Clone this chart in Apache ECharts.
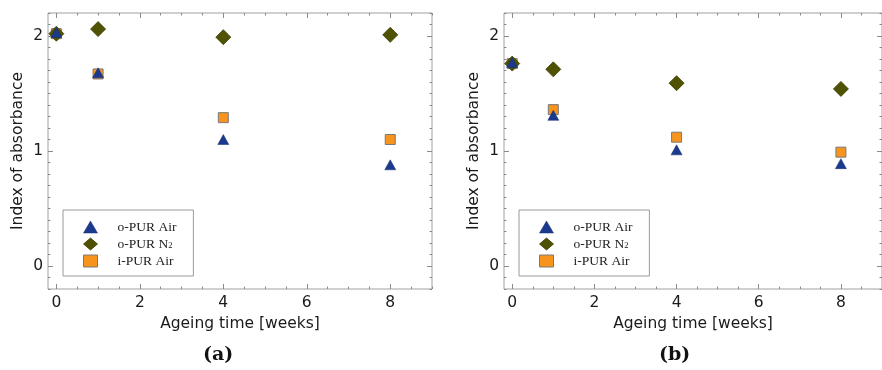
<!DOCTYPE html>
<html>
<head>
<meta charset="utf-8">
<script src="https://cdn.jsdelivr.net/npm/echarts@6/dist/echarts.min.js"></script>
<style>html,body{margin:0;padding:0;background:#fff;}#c{width:882px;height:370px;}</style>
</head>
<body>
<div id="c"></div>
<script>
// ---- data ----
var weeks = [0, 1, 4, 8];
var seriesNames = ['o-PUR Air', 'o-PUR N2', 'i-PUR Air'];
// panel (a)
var a_oPURAir = [2.03, 1.68, 1.10, 0.88];
var a_oPURN2  = [2.02, 2.06, 1.99, 2.01];
var a_iPURAir = [2.02, 1.67, 1.29, 1.10];
// panel (b)
var b_oPURAir = [1.77, 1.31, 1.01, 0.89];
var b_oPURN2  = [1.76, 1.71, 1.59, 1.54];
var b_iPURAir = [1.76, 1.36, 1.12, 0.99];
// ticks
var xMajor = [0, 2, 4, 6, 8];
var yMajor = [0, 1, 2];
var xMinor = [], yMinor = [];
for (var i = 0; i <= 18; i++) xMinor.push(i * 0.5);
for (var j = -2; j <= 22; j++) yMinor.push(Math.round(j) / 10);
var captions = ['(a)', '(b)'];

var XMIN = -0.2, XMAX = 9, YMIN = -0.2, YMAX = 2.2;
var tickColor = '#8a8a8a';
var labelFont = 'DejaVu Sans';

var grids = [
  {left: 48, top: 13, width: 384, height: 276, show: true, borderColor: '#a0a0a0', borderWidth: 1, backgroundColor: '#fff'},
  {left: 504, top: 13, width: 384, height: 276, show: true, borderColor: '#a0a0a0', borderWidth: 1, backgroundColor: '#fff'}
];

var xAxes = [], yAxes = [];
function mkX(g, pos, major, labels) {
  var ax = {
    type: 'value', gridIndex: g, position: pos, min: XMIN, max: XMAX,
    axisLine: {show: false, onZero: false},
    splitLine: {show: false},
    axisTick: {show: true, inside: true, length: major ? 5 : 2.5, customValues: major ? xMajor : xMinor, lineStyle: {color: tickColor}},
    axisLabel: {show: !!labels, customValues: xMajor, fontFamily: labelFont, fontSize: 15.5, color: '#1a1a1a', margin: 6}
  };
  if (labels) {
    ax.name = 'Ageing time [weeks]';
    ax.nameLocation = 'middle';
    ax.nameGap = 25;
    ax.nameTextStyle = {fontFamily: labelFont, fontSize: 15.5, color: '#1a1a1a'};
  }
  xAxes.push(ax);
  return xAxes.length - 1;
}
function mkY(g, pos, major, labels) {
  var ax = {
    type: 'value', gridIndex: g, position: pos, min: YMIN, max: YMAX,
    axisLine: {show: false, onZero: false},
    splitLine: {show: false},
    axisTick: {show: true, inside: true, length: major ? 5 : 2.5, customValues: major ? yMajor : yMinor, lineStyle: {color: tickColor}},
    axisLabel: {show: !!labels, customValues: yMajor, fontFamily: labelFont, fontSize: 15.5, color: '#1a1a1a', margin: 5}
  };
  if (labels) {
    ax.name = 'Index of absorbance';
    ax.nameLocation = 'middle';
    ax.nameGap = 22;
    ax.nameTextStyle = {fontFamily: labelFont, fontSize: 15.5, color: '#1a1a1a'};
  }
  yAxes.push(ax);
  return yAxes.length - 1;
}

var mainX = [], mainY = [];
for (var g = 0; g < 2; g++) {
  mainX.push(mkX(g, 'bottom', true, true));
  mkX(g, 'bottom', false, false);
  mkX(g, 'top', true, false);
  mkX(g, 'top', false, false);
  mainY.push(mkY(g, 'left', true, true));
  mkY(g, 'left', false, false);
  mkY(g, 'right', true, false);
  mkY(g, 'right', false, false);
}

function pairs(vals) { return weeks.map(function (w, k) { return [w, vals[k]]; }); }

var styles = {
  'o-PUR Air': {symbol: 'triangle', symbolSize: [11, 10], itemStyle: {color: '#1b3a8e', borderColor: '#142c70', borderWidth: 0.5, opacity: 1}},
  'o-PUR N2':  {symbol: 'diamond', symbolSize: [15, 15], itemStyle: {color: '#4f5200', borderColor: '#3a3c00', borderWidth: 0.8, opacity: 1}},
  'i-PUR Air': {symbol: 'rect', symbolSize: [10, 10], itemStyle: {color: '#f7941d', borderColor: '#7a7a7a', borderWidth: 1, opacity: 1}}
};

var panelData = [
  {'o-PUR Air': a_oPURAir, 'o-PUR N2': a_oPURN2, 'i-PUR Air': a_iPURAir},
  {'o-PUR Air': b_oPURAir, 'o-PUR N2': b_oPURN2, 'i-PUR Air': b_iPURAir}
];
var drawOrder = ['i-PUR Air', 'o-PUR N2', 'o-PUR Air'];
var series = [];
for (var p = 0; p < 2; p++) {
  drawOrder.forEach(function (nm) {
    var st = styles[nm];
    series.push({
      type: 'scatter', name: nm, xAxisIndex: mainX[p], yAxisIndex: mainY[p],
      data: pairs(panelData[p][nm]), symbol: st.symbol, symbolSize: st.symbolSize,
      itemStyle: st.itemStyle, emphasis: {disabled: true}, animation: false
    });
  });
}

function legendFor(left) {
  return {
    show: true, orient: 'vertical', left: left, top: 210,
    data: seriesNames.map(function (nm) {
      var st = styles[nm];
      return {name: nm, icon: st.symbol, itemStyle: st.itemStyle};
    }),
    backgroundColor: '#fff', borderColor: '#9a9a9a', borderWidth: 1,
    padding: [10, 17, 8, 20], itemWidth: 14, itemHeight: 12, itemGap: 3,
    selectedMode: false,
    formatter: function (nm) { return nm === 'o-PUR N2' ? 'o-PUR N{sub|2}' : nm; },
    textStyle: {
      fontFamily: 'Liberation Serif', fontSize: 13.5, lineHeight: 12, color: '#222', padding: [0, 0, 0, 15],
      rich: {sub: {fontFamily: 'Liberation Serif', fontSize: 8.5, lineHeight: 12, color: '#222', verticalAlign: 'bottom', padding: [4, 0, 0, 0]}}
    }
  };
}

var option = {
  animation: false,
  backgroundColor: '#fff',
  grid: grids,
  xAxis: xAxes,
  yAxis: yAxes,
  legend: [legendFor(63), legendFor(519)],
  series: series,
  graphic: [
    {type: 'text', left: 220 - 17, top: 346, style: {text: captions[0], font: 'bold 19px "DejaVu Serif"', fill: '#111'}},
    {type: 'text', left: 676 - 17, top: 346, style: {text: captions[1], font: 'bold 19px "DejaVu Serif"', fill: '#111'}}
  ]
};
var chart = echarts.init(document.getElementById('c'), null, {renderer: 'canvas'});
chart.setOption(option);
</script>
</body>
</html>
